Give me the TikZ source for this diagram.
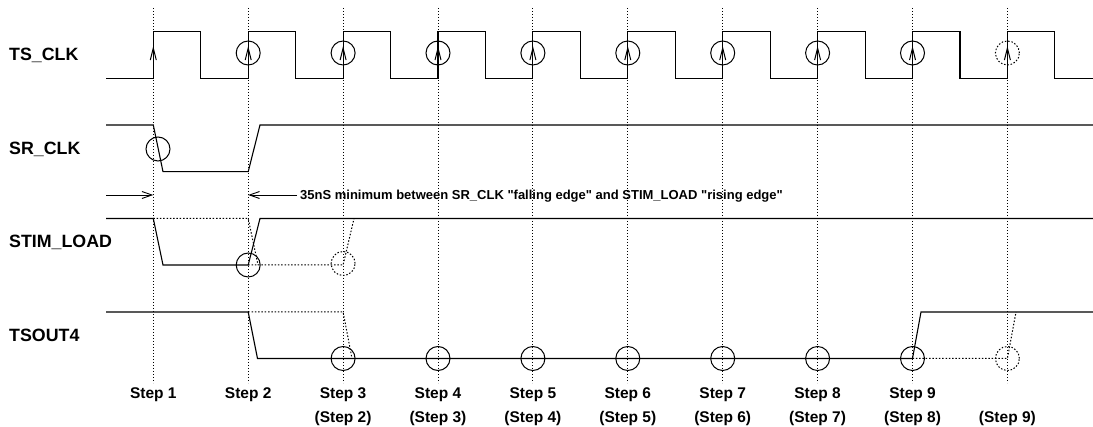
\documentclass[tikz,border=0pt]{standalone}
\usepackage{fontspec}
\setmainfont{Liberation Sans}
\newfontfamily\notefont{Liberation Sans}[Ligatures=TeXOff]
\usetikzlibrary{arrows.meta}
\begin{document}
\begin{tikzpicture}[x=1pt,y=-1pt,
  sig/.style={line width=1.1pt, line join=miter},
  gridline/.style={line width=1pt, dash pattern=on 1.2pt off 1.8pt},
  ghost/.style={line width=1pt, dash pattern=on 1.5pt off 1.8pt},
  ring/.style={line width=1pt},
  ghostring/.style={line width=1pt, dash pattern=on 1.5pt off 1.8pt},
  edgearrow/.style={line width=1pt, -{Straight Barb[length=12pt,width=6pt]}},
  barb/.style={line width=0.9pt, -{Straight Barb[length=10pt,width=7pt]}},
  siglabel/.style={font=\fontsize{17.8}{20}\selectfont\bfseries, anchor=base west, inner sep=0pt},
  steplabel/.style={font=\fontsize{15.5}{18}\selectfont\bfseries, anchor=base, inner sep=0pt},
  notelabel/.style={font=\notefont\fontsize{13}{16}\selectfont\bfseries, anchor=base west, inner sep=0pt}
]
\useasboundingbox (0,0) rectangle (1093,427);

% step grid lines
\foreach \i in {0,...,9}{
  \draw[gridline] ({153.3+94.9*\i},8) -- ({153.3+94.9*\i},383);
}

% TS_CLK
\draw[sig] (106,78.3) foreach \i in {0,...,9}{
   -- ({153.3+94.9*\i},78.3) -- ({153.3+94.9*\i},31.7)
   -- ({200.8+94.9*\i},31.7) -- ({200.8+94.9*\i},78.3)} -- (1093,78.3);
\foreach \i in {0,...,9}{
  \draw[edgearrow] ({153.3+94.9*\i},68) -- ({153.3+94.9*\i},46);
}
\foreach \i in {1,...,8}{
  \draw[ring] ({153.3+94.9*\i},53) circle[radius=12pt];
}
\draw[ghostring] (1007.4,53) circle[radius=12pt];

% SR_CLK
\draw[sig] (106,125) -- (153.3,125) -- (163,171.7) -- (248.2,171.7) -- (260,125) -- (1093,125);
\draw[ring] (158,149) circle[radius=12pt];

% timing annotation
\coordinate (a1s) at (106,195);
\coordinate (a1e) at (153.3,195);
\coordinate (a2s) at (297,195);
\coordinate (a2e) at (248.2,195);
\draw[barb] (a1s) -- (a1e);
\draw[barb] (a2s) -- (a2e);
\node[notelabel] (note) at (300,200) {35nS minimum between SR\_CLK "falling edge" and STIM\_LOAD "rising edge"};

% STIM_LOAD
\draw[sig] (106,218.5) -- (153.3,218.5) -- (163,265) -- (248.2,265) -- (260,218.5) -- (1093,218.5);
\draw[ghost] (153.3,218.5) -- (248.2,218.5) -- (258,265);
\draw[ghost] (248.2,265) -- (343.1,265) -- (354,218.5);
\draw[ring] (248.2,265) circle[radius=12pt];
\draw[ghostring] (343.1,263.5) circle[radius=12pt];

% TSOUT4
\draw[sig] (106,312) -- (248.2,312) -- (257.5,358.5) -- (912.5,358.5) -- (921,312) -- (1093,312);
\draw[ghost] (248.2,312) -- (343.1,312) -- (352,358.5);
\draw[ghost] (912.5,358.5) -- (1007.4,358.5) -- (1016,312);
\foreach \i in {2,...,8}{
  \draw[ring] ({153.3+94.9*\i},358.5) circle[radius=12pt];
}
\draw[ghostring] (1007.4,358.5) circle[radius=12pt];

% signal labels
\node[siglabel] (lts) at (9,61) {TS\_CLK};
\node[siglabel] (lsr) at (9,155) {SR\_CLK};
\node[siglabel] (lstim) at (9,247.5) {STIM\_LOAD};
\node[siglabel] (ltsout) at (9,341.5) {TSOUT4};

% step labels
\foreach \i in {1,...,9}{
  \node[steplabel] (s\i) at ({153.3+94.9*(\i-1)},398.5) {Step \i};
}
\foreach \i in {2,...,9}{
  \node[steplabel] (p\i) at ({153.3+94.9*\i},422.5) {(Step \i)};
}
\end{tikzpicture}
\end{document}
